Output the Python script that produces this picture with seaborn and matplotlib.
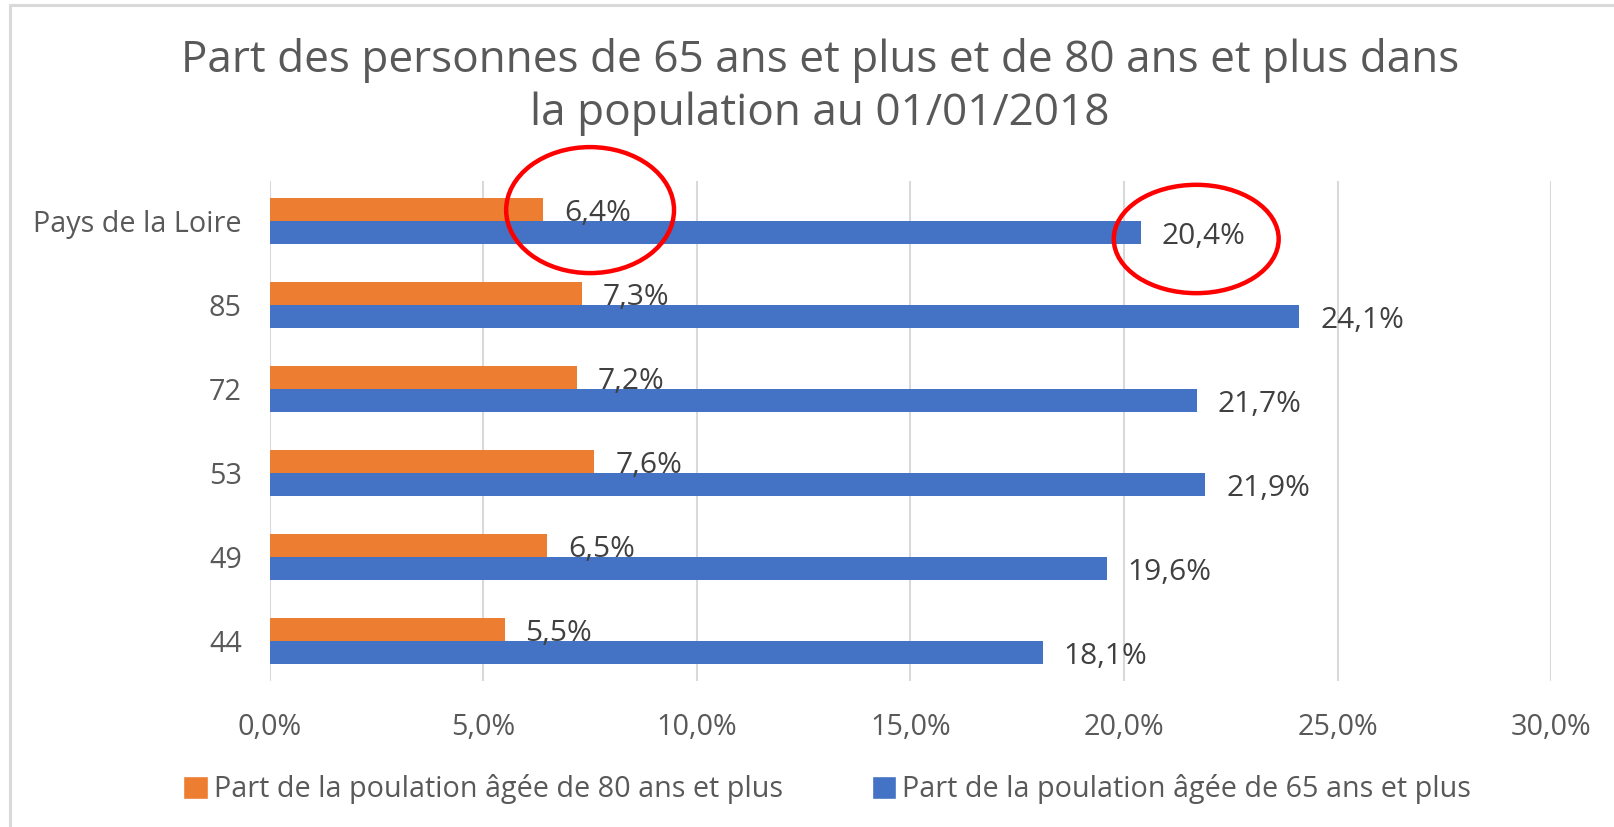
import matplotlib.pyplot as plt
import pandas as pd
import seaborn as sns
from matplotlib.patches import Ellipse, Patch
from matplotlib.lines import Line2D

# ---- Données ----
zones = ['Pays de la Loire', '85', '72', '53', '49', '44']
part_80 = [6.4, 7.3, 7.2, 7.6, 6.5, 5.5]
part_65 = [20.4, 24.1, 21.7, 21.9, 19.6, 18.1]
serie_80 = 'Part de la poulation âgée de 80 ans et plus'
serie_65 = 'Part de la poulation âgée de 65 ans et plus'

df = pd.DataFrame({
    'Zone': zones * 2,
    'Part': part_80 + part_65,
    'Serie': [serie_80] * len(zones) + [serie_65] * len(zones),
})

orange = '#ED7D31'
bleu = '#4472C4'
gris = '#595959'

sns.set_style('white')
plt.rcParams['font.family'] = ['Open Sans', 'DejaVu Sans']

fig = plt.figure(figsize=(16.14, 8.27), dpi=100)
ax = fig.add_axes([0.1671, 0.1766, 0.7940, 0.6045])

sns.barplot(data=df, y='Zone', x='Part', hue='Serie', order=zones,
            hue_order=[serie_80, serie_65], palette=[orange, bleu],
            orient='h', width=0.54, gap=0, ax=ax, legend=False,
            edgecolor='none', saturation=1)

# ---- étiquettes de données ----
for cont in ax.containers:
    for bar in cont:
        v = bar.get_width()
        yc = bar.get_y() + bar.get_height() / 2
        ax.annotate(f'{v:.1f}%'.replace('.', ','), xy=(v, yc),
                    xytext=(15, -3), textcoords='offset points',
                    ha='left', va='center', fontsize=21.5, color='#404040')

ax.set_xlim(0, 30)
ax.set_ylim(5.476, -0.476)
ax.set_xticks(range(0, 31, 5))
ax.set_xticklabels([f'{t:.1f}%'.replace('.', ',') for t in range(0, 31, 5)])
ax.grid(axis='x', color='#D9D9D9', linewidth=1.5)
ax.grid(axis='y', visible=False)
ax.set_axisbelow(True)
sns.despine(ax=ax, left=True, bottom=True)
ax.tick_params(axis='x', labelsize=20.7, labelcolor=gris, length=0, pad=23)
ax.tick_params(axis='y', labelsize=20.7, labelcolor=gris, length=0, pad=20)
ax.set_xlabel('')
ax.set_ylabel('')

# ---- ellipses rouges ----
ax.add_patch(Ellipse((7.50, -0.13), 3.93, 1.5, fill=False, edgecolor='#FF0000',
                     linewidth=3.2, clip_on=False))
ax.add_patch(Ellipse((21.69, 0.214), 3.86, 1.29, fill=False, edgecolor='#FF0000',
                     linewidth=3.2, clip_on=False))

# ---- titre ----
fig.text(820 / 1614, 1 - 87 / 827,
         'Part des personnes de 65 ans et plus et de 80 ans et plus dans\nla population au 01/01/2018',
         ha='center', va='center', fontsize=31.8, color=gris, linespacing=1.23)

# ---- légende ----
handles = [Patch(facecolor=orange), Patch(facecolor=bleu)]
fig.legend(handles, [serie_80, serie_65], loc='center',
           bbox_to_anchor=(827 / 1614, 1 - 789 / 827), ncol=2, frameon=False,
           fontsize=20.7, labelcolor=gris, handlelength=0.85, handleheight=0.85,
           handletextpad=0.2, columnspacing=3.1)

# ---- cadre ----
fig.add_artist(Line2D([10 / 1614, 10 / 1614], [0, 1 - 5 / 827],
                      transform=fig.transFigure, color='#D9D9D9', linewidth=2.2))
fig.add_artist(Line2D([10 / 1614, 1], [1 - 5 / 827, 1 - 5 / 827],
                      transform=fig.transFigure, color='#D9D9D9', linewidth=2.2))

plt.savefig('out.png', dpi=100)
